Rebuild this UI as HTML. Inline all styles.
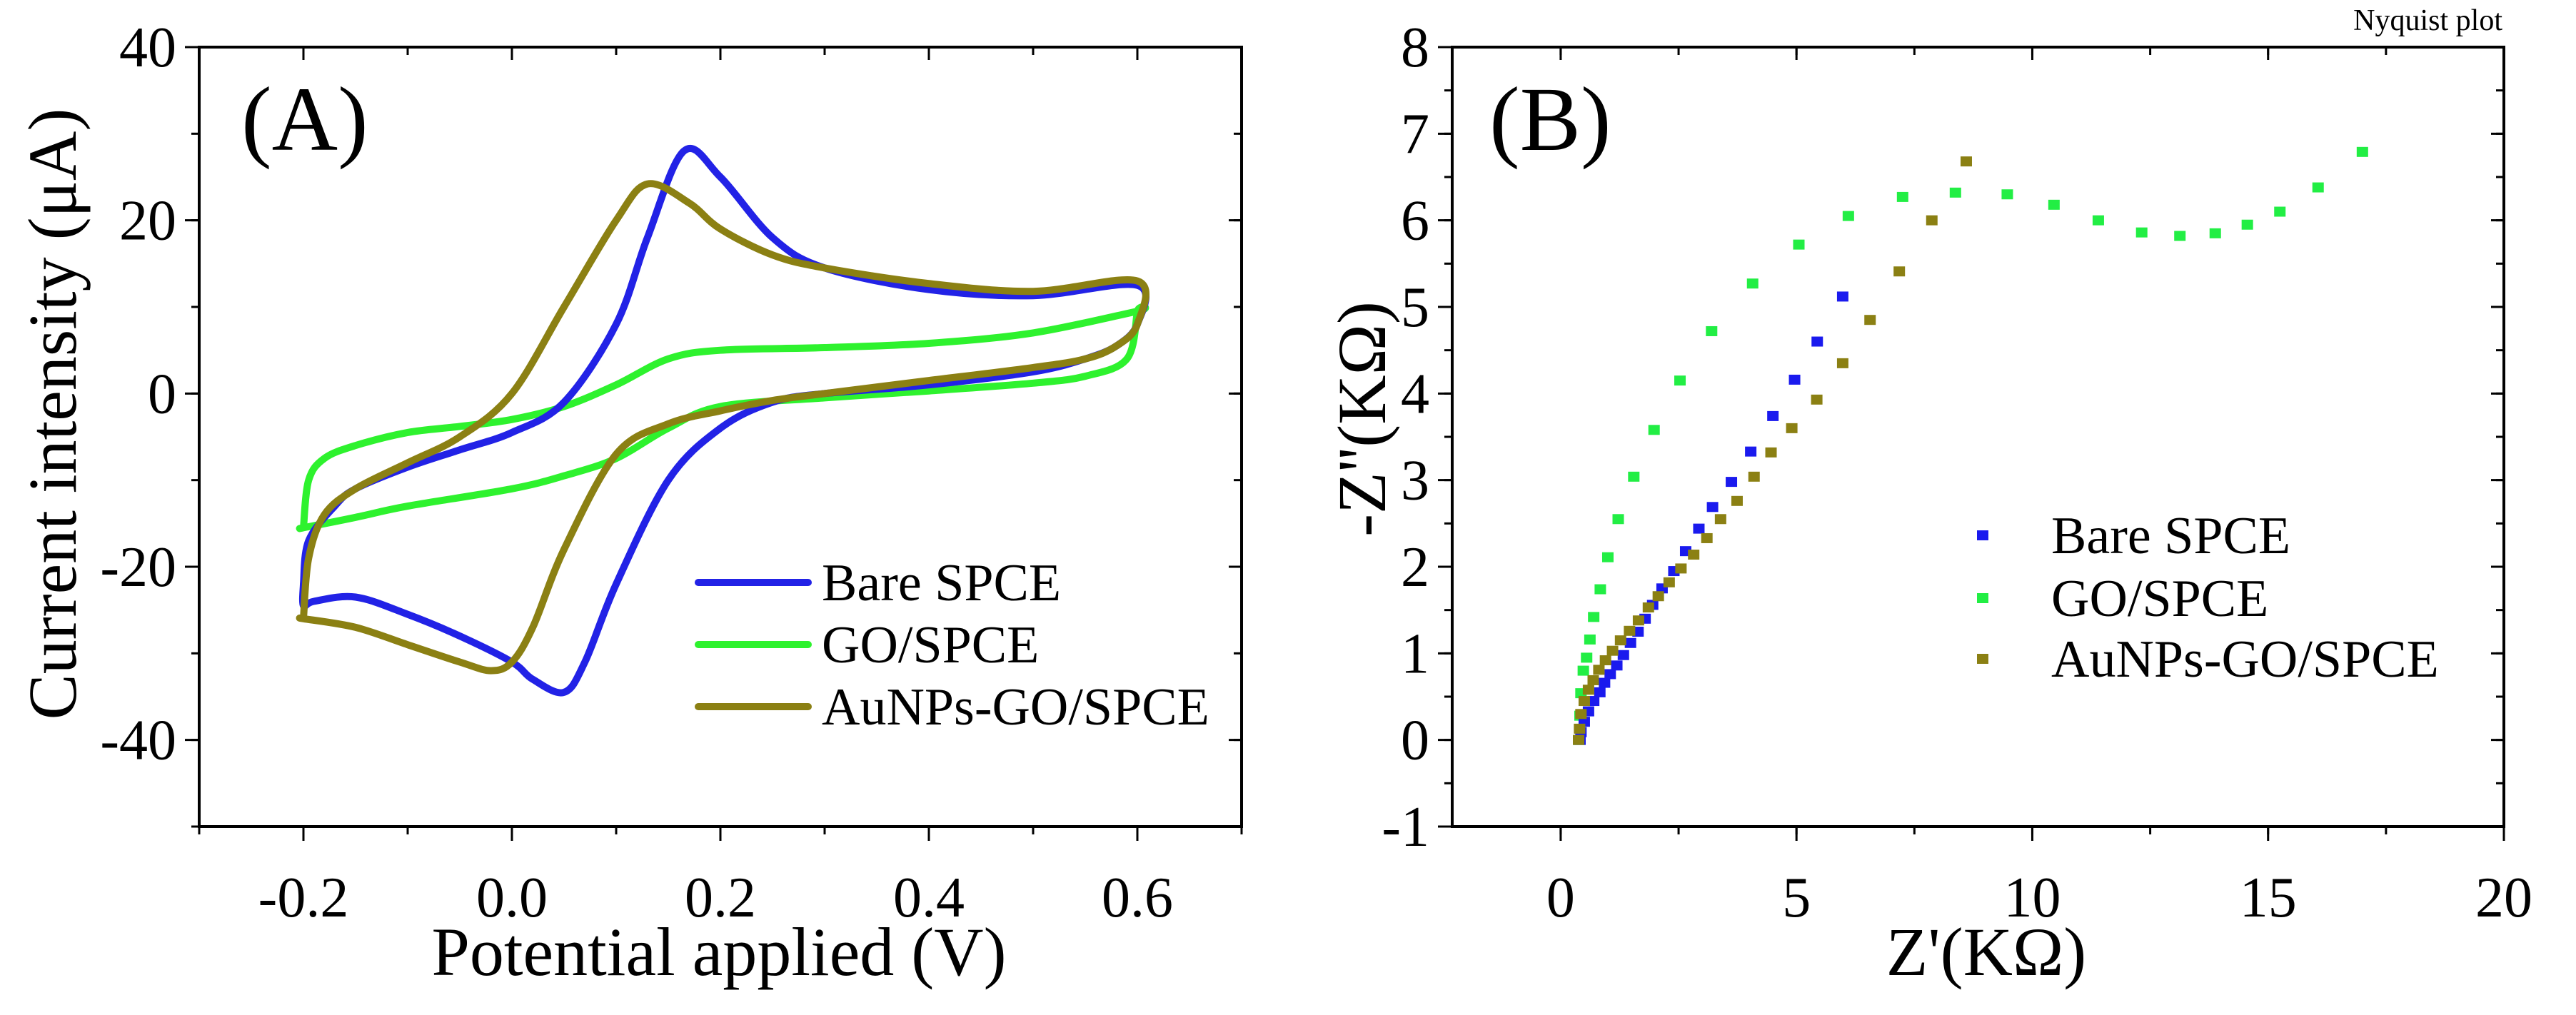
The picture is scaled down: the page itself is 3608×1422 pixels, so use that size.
<!DOCTYPE html>
<html><head><meta charset="utf-8"><style>
html,body{margin:0;padding:0;background:#fff;}
svg{display:block;font-family:"Liberation Serif",serif;}
</style></head><body>
<svg id="fig" width="3608" height="1422" viewBox="0 0 3608 1422" xmlns="http://www.w3.org/2000/svg"></svg>
<script>
// ---- Chart A data (cyclic voltammetry) ----
const bareX = [-0.2,-0.195,-0.17,-0.15,-0.1,-0.05,0,0.05,0.1,0.13,0.165,0.2,0.25,0.3,0.4,0.5,0.6,0.6,0.58,0.55,0.5,0.4,0.3,0.25,0.2,0.15,0.1,0.07,0.05,0.02,0,-0.05,-0.1,-0.15,-0.19,-0.2,-0.2];
const bareY = [-22,-17,-13,-11,-8.5,-6.5,-4.5,-1,8,18,28,25,18,14.5,12,11.3,12.5,8,5.5,4,2.5,1,0,-1,-4,-10,-22,-31,-34.5,-33,-31,-28,-25.5,-23.5,-24,-24.5,-22];
const goX = [-0.2,-0.195,-0.18,-0.15,-0.1,-0.05,0,0.05,0.1,0.15,0.2,0.3,0.4,0.5,0.6,0.6,0.59,0.55,0.5,0.4,0.3,0.2,0.15,0.1,0.05,0,-0.1,-0.15,-0.2,-0.2];
const goY = [-15.5,-10,-7.5,-6,-4.5,-3.8,-3,-1.5,1,4,5,5.3,5.8,7,9.5,9.5,4,2,1.2,0.3,-0.5,-1.5,-4,-7.5,-9.5,-11,-13,-14.3,-15.5,-15.5];
const auX = [-0.2,-0.195,-0.18,-0.15,-0.1,-0.05,0,0.05,0.1,0.13,0.17,0.2,0.25,0.3,0.4,0.5,0.6,0.6,0.58,0.55,0.5,0.4,0.3,0.25,0.2,0.15,0.1,0.05,0.02,0,-0.02,-0.05,-0.1,-0.15,-0.2,-0.2];
const auY = [-26,-19,-14,-11,-8,-5,0,10,20,24.2,22,19,16,14.5,12.7,11.8,13,8,5.5,4,3,1.5,0,-0.8,-2,-3.5,-7,-18,-27,-31,-32,-31,-29,-27,-26,-26];
const aXTicks = [-0.2,0.0,0.2,0.4,0.6];
const aXTickLabels = ["-0.2","0.0","0.2","0.4","0.6"];
const aYTicks = [40,20,0,-20,-40];
const aYTickLabels = ["40","20","0","-20","-40"];
// ---- Chart B data (Nyquist) ----
const bGoX = [0.38,0.41,0.43,0.48,0.55,0.62,0.7,0.84,1.0,1.22,1.55,1.98,2.53,3.2,4.07,5.05,6.1,7.25,8.37,9.47,10.46,11.4,12.32,13.13,13.88,14.56,15.25,16.06,17.0];
const bGoY = [0,0.28,0.54,0.8,0.95,1.16,1.42,1.74,2.11,2.55,3.04,3.58,4.15,4.72,5.27,5.72,6.05,6.27,6.32,6.3,6.18,6.0,5.86,5.82,5.85,5.95,6.1,6.38,6.79];
const bBareX = [0.41,0.43,0.5,0.59,0.7,0.83,0.93,1.05,1.19,1.33,1.48,1.64,1.79,1.95,2.15,2.4,2.65,2.93,3.22,3.62,4.03,4.5,4.96,5.44,5.98];
const bBareY = [0,0.09,0.21,0.33,0.45,0.55,0.66,0.76,0.86,0.98,1.12,1.25,1.4,1.56,1.75,1.95,2.18,2.44,2.69,2.98,3.33,3.74,4.16,4.6,5.12];
const bAuX = [0.38,0.4,0.43,0.5,0.59,0.69,0.81,0.95,1.1,1.27,1.46,1.65,1.86,2.07,2.3,2.55,2.82,3.1,3.39,3.74,4.1,4.46,4.9,5.43,5.98,6.56,7.18,7.87,8.6];
const bAuY = [0,0.13,0.3,0.45,0.58,0.69,0.81,0.92,1.03,1.15,1.26,1.38,1.53,1.66,1.82,1.98,2.14,2.33,2.55,2.76,3.04,3.32,3.6,3.93,4.35,4.85,5.41,6.0,6.68];
const bXTicks = [0,5,10,15,20];
const bXTickLabels = ["0","5","10","15","20"];
const bYTicks = [8,7,6,5,4,3,2,1,0,-1];
const bYTickLabels = ["8","7","6","5","4","3","2","1","0","-1"];

const svg = document.getElementById('fig');
const NS = 'http://www.w3.org/2000/svg';
function mk(tag, attrs, parent, text){
  const e = document.createElementNS(NS, tag);
  for (const k in attrs) e.setAttribute(k, attrs[k]);
  if (text !== undefined) e.textContent = text;
  (parent||svg).appendChild(e); return e;
}
const A = {x0:279, x1:1739, y0:66, y1:1158, xmin:-0.3, xmax:0.7, ymin:-50, ymax:40};
const B = {x0:2034, x1:3507, y0:66, y1:1158, xmin:-2.3, xmax:20, ymin:-1, ymax:8};
function sx(c,v){return c.x0+(v-c.xmin)/(c.xmax-c.xmin)*(c.x1-c.x0);}
function sy(c,v){return c.y1-(v-c.ymin)/(c.ymax-c.ymin)*(c.y1-c.y0);}

function frame(c, name, xt, xl, yt, yl, xminor, yminor){
  const g = mk('g',{});
  
  
  const box = mk('rect',{x:c.x0,y:c.y0,width:c.x1-c.x0,height:c.y1-c.y0,fill:'none',stroke:'#000','stroke-width':4},g);
  
  
  xminor.forEach(v=>{const x=sx(c,v);
    mk('line',{x1:x,x2:x,y1:c.y1,y2:c.y1+11,stroke:'#000','stroke-width':3},g);
    mk('line',{x1:x,x2:x,y1:c.y0,y2:c.y0+11,stroke:'#000','stroke-width':3},g);});
  yminor.forEach(v=>{const y=sy(c,v);
    mk('line',{x1:c.x0-11,x2:c.x0,y1:y,y2:y,stroke:'#000','stroke-width':3},g);
    mk('line',{x1:c.x1-11,x2:c.x1,y1:y,y2:y,stroke:'#000','stroke-width':3},g);});
  xt.forEach((v,i)=>{const x=sx(c,v);
    mk('line',{x1:x,x2:x,y1:c.y1,y2:c.y1+20,stroke:'#000','stroke-width':3},g);
    mk('line',{x1:x,x2:x,y1:c.y0,y2:c.y0+18,stroke:'#000','stroke-width':3},g);
    const t=mk('text',{x:x,y:1284,'font-size':80,'text-anchor':'middle'},g,xl[i]);
    
    });
  yt.forEach((v,i)=>{const y=sy(c,v);
    mk('line',{x1:c.x0-20,x2:c.x0,y1:y,y2:y,stroke:'#000','stroke-width':3},g);
    mk('line',{x1:c.x1-18,x2:c.x1,y1:y,y2:y,stroke:'#000','stroke-width':3},g);
    const t=mk('text',{x:c.x0-32,y:y+27,'font-size':80,'text-anchor':'end'},g,yl[i]);
    
    });
}
const aMinX=[]; for(let v=-0.3;v<=0.701;v+=0.1) aMinX.push(Math.round(v*10)/10);
const aMinY=[]; for(let v=-50;v<=40;v+=10) aMinY.push(v);
frame(A,'cv-chart',aXTicks,aXTickLabels,aYTicks,aYTickLabels,aMinX,aMinY);
function smooth(pts){
  let d='M'+pts[0][0].toFixed(1)+','+pts[0][1].toFixed(1);
  for(let i=0;i<pts.length-1;i++){
    const p0=pts[Math.max(0,i-1)],p1=pts[i],p2=pts[i+1],p3=pts[Math.min(pts.length-1,i+2)];
    const c1=[p1[0]+(p2[0]-p0[0])/6,p1[1]+(p2[1]-p0[1])/6];
    const c2=[p2[0]-(p3[0]-p1[0])/6,p2[1]-(p3[1]-p1[1])/6];
    d+='C'+c1[0].toFixed(1)+','+c1[1].toFixed(1)+' '+c2[0].toFixed(1)+','+c2[1].toFixed(1)+' '+p2[0].toFixed(1)+','+p2[1].toFixed(1);
  }
  return d;
}
function curve(xs,ys,color,name){
  const pts=xs.map((x,i)=>[sx(A,x),sy(A,ys[i])]);
  const p=mk('path',{d:smooth(pts),fill:'none',stroke:color,'stroke-width':10,'stroke-linejoin':'round','stroke-linecap':'round'});
  
  
}
curve(goX,goY,'#2ef22e','go-spce-cv-curve');
curve(bareX,bareY,'#2222e6','bare-spce-cv-curve');
curve(auX,auY,'#8b8013','aunps-go-spce-cv-curve');
const bMinX=[]; for(let v=-2.5;v<=20.01;v+=2.5) if(v>=B.xmin) bMinX.push(v);
const bMinY=[]; for(let v=-1;v<=8.01;v+=0.5) bMinY.push(v);
frame(B,'nyquist-chart',bXTicks,bXTickLabels,bYTicks,bYTickLabels,bMinX,bMinY);
function scatter(xs,ys,color,name){
  const g=mk('g',{fill:color});
  
  
  xs.forEach((x,i)=>{
    const r=mk('rect',{x:sx(B,x)-8,y:sy(B,ys[i])-7,width:16,height:14},g);
    
    
  });
}
scatter(bGoX,bGoY,'#22ee44','go-spce-series');
scatter(bBareX,bBareY,'#1a1aee','bare-spce-series');
scatter(bAuX,bAuY,'#8b8013','aunps-go-spce-series');
</script>
<svg style="position:absolute;left:0;top:0" width="3608" height="1422" viewBox="0 0 3608 1422" xmlns="http://www.w3.org/2000/svg">
  <g font-family="Liberation Serif, serif">
  <text x="338" y="210" font-size="128">(A)</text>
  <text x="2086" y="210" font-size="128">(B)</text>
  <text x="1007" y="1366" font-size="96" text-anchor="middle">Potential applied (V)</text>
  <text x="0" y="0" font-size="96" text-anchor="middle" transform="translate(106,580) rotate(-90)">Current intensity (μA)</text>
  <text x="2782" y="1366" font-size="96" text-anchor="middle">Z'(KΩ)</text>
  <text x="0" y="0" font-size="96" text-anchor="middle" transform="translate(1940,587) rotate(-90)">-Z''(KΩ)</text>
  <text x="3505" y="42" font-size="42" text-anchor="end">Nyquist plot</text>
  <g font-size="74">
    <line x1="978" x2="1132" y1="816" y2="816" stroke="#2222e6" stroke-width="10" stroke-linecap="round"/>
    <text x="1151" y="841">Bare SPCE</text>
    <line x1="978" x2="1132" y1="903" y2="903" stroke="#2ef22e" stroke-width="10" stroke-linecap="round"/>
    <text x="1151" y="928">GO/SPCE</text>
    <line x1="978" x2="1132" y1="990" y2="990" stroke="#8b8013" stroke-width="10" stroke-linecap="round"/>
    <text x="1151" y="1015">AuNPs-GO/SPCE</text>
  </g>
  <g font-size="74">
    <rect x="2769" y="743" width="16" height="14" fill="#1a1aee"/>
    <text x="2873" y="775">Bare SPCE</text>
    <rect x="2769" y="831" width="16" height="14" fill="#22ee44"/>
    <text x="2873" y="863">GO/SPCE</text>
    <rect x="2769" y="916" width="16" height="14" fill="#8b8013"/>
    <text x="2873" y="948">AuNPs-GO/SPCE</text>
  </g>
  </g>
</svg>
</body></html>
